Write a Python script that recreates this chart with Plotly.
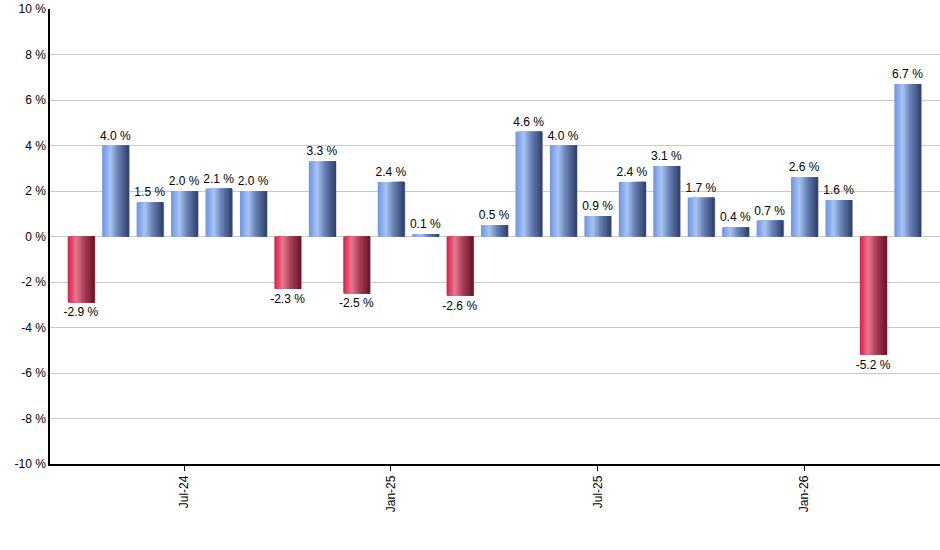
import plotly.graph_objects as go

# Monthly returns, Apr-24 .. Apr-26
months = ['Apr-24', 'May-24', 'Jun-24', 'Jul-24', 'Aug-24', 'Sep-24', 'Oct-24', 'Nov-24', 'Dec-24',
          'Jan-25', 'Feb-25', 'Mar-25', 'Apr-25', 'May-25', 'Jun-25', 'Jul-25', 'Aug-25', 'Sep-25',
          'Oct-25', 'Nov-25', 'Dec-25', 'Jan-26', 'Feb-26', 'Mar-26', 'Apr-26']
returns = [-2.9, 4.0, 1.5, 2.0, 2.1, 2.0, -2.3, 3.3, -2.5, 2.4, 0.1, -2.6, 0.5,
           4.6, 4.0, 0.9, 2.4, 3.1, 1.7, 0.4, 0.7, 2.6, 1.6, -5.2, 6.7]
x_tick_labels = ['Jul-24', 'Jan-25', 'Jul-25', 'Jan-26']
y_tick_vals = [-10, -8, -6, -4, -2, 0, 2, 4, 6, 8, 10]
y_tick_labels = ['%d %%' % v for v in y_tick_vals]  # plain hyphen minus like the original

# gradient stops (left -> right) for up / down bars
blue_stops = [(0.0, (110, 152, 230)), (0.3, (170, 196, 243)), (0.6, (104, 130, 182)), (1.0, (52, 70, 110))]
red_stops = [(0.0, (222, 32, 76)), (0.3, (232, 122, 144)), (0.6, (170, 66, 90)), (1.0, (110, 26, 42))]


def interp(stops, t):
    for (t0, c0), (t1, c1) in zip(stops, stops[1:]):
        if t <= t1:
            f = (t - t0) / (t1 - t0)
            return 'rgb(%d,%d,%d)' % tuple(round(a + (b - a) * f) for a, b in zip(c0, c1))
    return 'rgb(%d,%d,%d)' % stops[-1][1]


bar_w = 0.77
n_slices = 20

fig = go.Figure()

# thin grey shadow on the right edge
fig.add_trace(go.Bar(x=months, y=returns, width=bar_w, offset=-bar_w / 2 + 0.03,
                     marker=dict(color='#9a9a9a', line_width=0), hoverinfo='skip'))

# each slice covers from its start to the bar's right edge, drawn left to right
for i in range(n_slices):
    t = i / (n_slices - 1)
    start = -bar_w / 2 + i * bar_w / n_slices
    colors = [interp(blue_stops if v >= 0 else red_stops, t) for v in returns]
    fig.add_trace(go.Bar(x=months, y=returns, width=bar_w / 2 - start, offset=start,
                         marker=dict(color=colors, line_width=0), hoverinfo='skip'))

# value labels
fig.add_trace(go.Bar(x=months, y=returns, width=bar_w,
                     marker=dict(color='rgba(0,0,0,0)', line_width=0),
                     text=['%.1f %%' % v for v in returns], textposition='outside',
                     constraintext='none',
                     textfont=dict(family='Liberation Sans, Arial', size=12, color='#000'),
                     cliponaxis=False))

fig.update_layout(
    width=940, height=550,
    barmode='overlay',
    showlegend=False,
    plot_bgcolor='white', paper_bgcolor='white',
    margin=dict(l=50, r=0, t=9, b=86),
    font=dict(family='Liberation Sans, Arial', size=12, color='#000'),
    xaxis=dict(type='category', range=[-0.9, 24.94], tickmode='array', tickvals=x_tick_labels,
               ticktext=x_tick_labels, tickangle=-90, ticks='outside', ticklen=5, tickcolor='black',
               showline=True, linecolor='black', linewidth=1.5, showgrid=False, automargin=False),
    yaxis=dict(range=[-10, 10], tickmode='array', tickvals=y_tick_vals, ticktext=y_tick_labels,
               showline=True, linecolor='black', linewidth=1.5, gridcolor='#c8c8c8',
               zeroline=False, ticks='', automargin=False),
)

# drop the page's default body margin so the chart fills the window
fig.write_html("out.html", config={'displayModeBar': False}, post_script=(
    "document.body.style.margin='0';document.body.style.overflow='hidden';"
    "Plotly.relayout('{plot_id}', {width: 940, height: 550});"))
